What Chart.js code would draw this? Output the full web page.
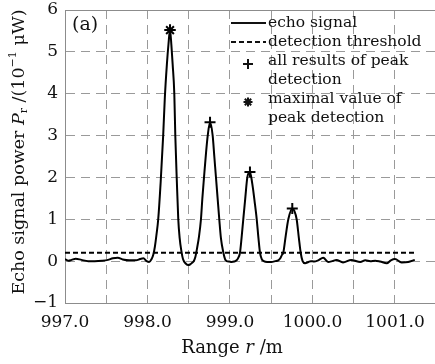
<!DOCTYPE html>
<html>
<head>
<meta charset="utf-8">
<script src="https://cdn.jsdelivr.net/npm/chart.js@4"></script>
<style>
  body { margin: 0; background: #fff; }
  #box { width: 435px; height: 364px; }
</style>
</head>
<body>
<div id="box"><canvas id="myChart" width="435" height="364"></canvas></div>
<script>
// echo signal (range in m, power in 1e-1 uW)
var rangeX = [997.00, 997.04, 997.08, 997.13, 997.20, 997.28, 997.36, 997.45, 997.52, 997.58,
  997.64, 997.70, 997.78, 997.86, 997.91, 997.95, 997.99, 998.02, 998.05, 998.07,
  998.09, 998.11, 998.13, 998.16, 998.19, 998.21, 998.235, 998.255, 998.273, 998.29,
  998.305, 998.325, 998.337, 998.354, 998.373, 998.39, 998.41, 998.43, 998.46, 998.49,
  998.515, 998.54, 998.56, 998.58, 998.60, 998.625, 998.648, 998.665, 998.685, 998.71,
  998.73, 998.758, 998.79, 998.81, 998.83, 998.85, 998.87, 998.89, 998.92, 998.94,
  998.96, 998.99, 999.02, 999.05, 999.08, 999.10, 999.121, 999.14, 999.161, 999.185,
  999.21, 999.242, 999.27, 999.30, 999.324, 999.345, 999.364, 999.385, 999.41, 999.45,
  999.50, 999.55, 999.585, 999.61, 999.63, 999.646, 999.675, 999.707, 999.755, 999.78,
  999.808, 999.835, 999.857, 999.88, 999.91, 999.95, 999.98, 1000.02, 1000.07, 1000.13,
  1000.19, 1000.24, 1000.29, 1000.37, 1000.47, 1000.58, 1000.64, 1000.70, 1000.76, 1000.82,
  1000.90, 1000.95, 1001.00, 1001.08, 1001.16, 1001.24];
var echoY = [0.05, 0.01, 0.03, 0.06, 0.03, 0.00, 0.00, 0.01, 0.03, 0.07,
  0.08, 0.04, 0.02, 0.02, 0.05, 0.07, 0.00, -0.02, 0.05, 0.15,
  0.35, 0.65, 1.0, 1.9, 3.0, 3.9, 4.7, 5.2, 5.52, 5.15,
  4.7, 4.0, 3.0, 2.0, 1.0, 0.55, 0.25, 0.05, -0.05, -0.09,
  -0.08, -0.04, 0.0, 0.1, 0.3, 0.6, 1.0, 1.5, 2.0, 2.6,
  3.0, 3.32, 3.0, 2.5, 2.0, 1.5, 1.0, 0.55, 0.2, 0.05,
  0.0, -0.01, -0.02, -0.01, 0.02, 0.08, 0.2, 0.55, 1.0, 1.5,
  2.0, 2.13, 1.85, 1.4, 1.0, 0.55, 0.2, 0.05, 0.0, -0.02,
  -0.02, 0.0, 0.02, 0.07, 0.15, 0.2, 0.6, 1.0, 1.26, 1.2,
  1.0, 0.55, 0.2, 0.0, -0.05, -0.02, 0.0, -0.01, 0.02, 0.08,
  -0.02, 0.0, 0.03, -0.03, 0.03, -0.02, 0.02, 0.0, 0.01, -0.01,
  -0.05, 0.02, 0.05, -0.03, -0.02, 0.03];

var thresholdX = [997.0, 1001.24];
var thresholdY = [0.2, 0.2];

var peakX = [998.273, 998.758, 999.242, 999.755];
var peakY = [5.52, 3.32, 2.13, 1.26];
var maxPeakX = [998.273];
var maxPeakY = [5.52];

var xTickLabels = ['997.0', '998.0', '999.0', '1000.0', '1001.0'];
var yTickLabels = ['\u22121', '0', '1', '2', '3', '4', '5', '6'];

var legendLabels = [['echo signal'], ['detection threshold'],
  ['all results of peak', 'detection'], ['maximal value of', 'peak detection']];

var SERIF = '"DejaVu Serif", serif';

function pts(xs, ys) {
  return xs.map(function (x, i) { return { x: x, y: ys[i] }; });
}

// mixed text pieces: [text, style] with style '', 'i', 'sub', 'sup'
function fontFor(st, size) {
  if (st === 'i') return 'italic ' + size + 'px ' + SERIF;
  if (st === 'sub' || st === 'sup') return Math.round(size * 0.62) + 'px ' + SERIF;
  return size + 'px ' + SERIF;
}
function piecesWidth(ctx, parts, size) {
  var w = 0;
  parts.forEach(function (p) {
    ctx.font = fontFor(p[1], size);
    w += ctx.measureText(p[0]).width;
  });
  return w;
}
function drawPieces(ctx, parts, size, x, y) {
  var cx = x - piecesWidth(ctx, parts, size) / 2;
  ctx.textBaseline = 'middle';
  ctx.textAlign = 'left';
  parts.forEach(function (p) {
    ctx.font = fontFor(p[1], size);
    var dy = p[1] === 'sub' ? size * 0.3 : (p[1] === 'sup' ? -size * 0.32 : 0);
    ctx.fillText(p[0], cx, y + dy);
    cx += ctx.measureText(p[0]).width;
  });
}

var extras = {
  id: 'extras',
  afterDraw: function (chart) {
    var ctx = chart.ctx;
    var a = chart.chartArea;
    ctx.save();
    // top frame line
    ctx.strokeStyle = '#8c8c8c';
    ctx.lineWidth = 1;
    ctx.beginPath();
    ctx.moveTo(a.left, a.top + 0.5);
    ctx.lineTo(a.right, a.top + 0.5);
    ctx.stroke();

    ctx.fillStyle = '#111';
    ctx.font = '19px ' + SERIF;
    ctx.textAlign = 'left';
    ctx.textBaseline = 'middle';
    ctx.fillText('(a)', 72, 25);

    // axis titles
    drawPieces(ctx, [['Range ', ''], ['r', 'i'], [' /m', '']], 18, 232, 348);
    ctx.translate(19, 152);
    ctx.rotate(-Math.PI / 2);
    drawPieces(ctx, [['Echo signal power ', ''], ['P', 'i'], ['r', 'sub'], [' /(10', ''], ['\u22121', 'sup'], [' \u03bcW)', '']], 17.5, 0, 0);
    ctx.restore();

    // legend inside the plot
    ctx.save();
    ctx.fillStyle = '#111';
    ctx.strokeStyle = '#111';
    ctx.font = '15.5px ' + SERIF;
    ctx.textAlign = 'left';
    ctx.textBaseline = 'middle';
    var tx = 268, y0 = 23, lh = 19;
    var row = 0;
    legendLabels.forEach(function (lines, i) {
      var y = y0 + row * lh;
      ctx.lineWidth = 1.8;
      if (i === 0) {
        ctx.setLineDash([]);
        ctx.beginPath(); ctx.moveTo(231, y); ctx.lineTo(266, y); ctx.stroke();
      } else if (i === 1) {
        ctx.setLineDash([5, 3]);
        ctx.beginPath(); ctx.moveTo(231, y); ctx.lineTo(266, y); ctx.stroke();
        ctx.setLineDash([]);
      } else if (i === 2) {
        ctx.lineWidth = 2;
        ctx.beginPath();
        ctx.moveTo(243, y + 3); ctx.lineTo(253, y + 3);
        ctx.moveTo(248, y - 2); ctx.lineTo(248, y + 8);
        ctx.stroke();
      } else {
        var r = 4.5, cy = y + 3;
        ctx.lineWidth = 2;
        ctx.beginPath();
        for (var k = 0; k < 4; k++) {
          var ang = k * Math.PI / 4;
          ctx.moveTo(248 - r * Math.cos(ang), cy - r * Math.sin(ang));
          ctx.lineTo(248 + r * Math.cos(ang), cy + r * Math.sin(ang));
        }
        ctx.stroke();
      }
      lines.forEach(function (t) {
        ctx.fillText(t, tx, y0 + row * lh);
        row++;
      });
    });
    ctx.restore();
  }
};

var ctx = document.getElementById('myChart').getContext('2d');
var chart = new Chart(ctx, {
  type: 'line',
  data: {
    datasets: [{
      label: 'echo signal',
      data: pts(rangeX, echoY),
      borderColor: '#000',
      borderWidth: 2,
      pointRadius: 0,
      cubicInterpolationMode: 'monotone'
    }, {
      label: 'detection threshold',
      data: pts(thresholdX, thresholdY),
      borderColor: '#000',
      borderWidth: 2,
      borderDash: [5, 3],
      pointRadius: 0
    }, {
      label: 'all results of peak detection',
      data: pts(peakX, peakY),
      showLine: false,
      pointStyle: 'cross',
      pointRadius: 5.5,
      pointBorderWidth: 2,
      borderColor: '#000'
    }, {
      label: 'maximal value of peak detection',
      data: pts(maxPeakX, maxPeakY),
      showLine: false,
      pointStyle: 'star',
      pointRadius: 5.5,
      pointBorderWidth: 2,
      borderColor: '#000'
    }]
  },
  options: {
    responsive: false,
    animation: false,
    layout: { autoPadding: false, padding: { top: 10, right: 0, left: 0, bottom: 0 } },
    plugins: { legend: { display: false }, tooltip: { enabled: false } },
    scales: {
      x: {
        type: 'linear',
        min: 997.0,
        max: 1001.485,
        afterFit: function (s) { s.height = 61; s.paddingLeft = 0; s.paddingRight = 0; },
        grid: { color: '#9a9a9a', lineWidth: 1, drawTicks: false },
        border: { color: '#8c8c8c', dash: [9, 6] },
        ticks: {
          stepSize: 0.5,
          includeBounds: false,
          autoSkip: false,
          maxRotation: 0,
          padding: 9,
          color: '#111',
          font: { family: SERIF, size: 17 },
          callback: function (v) {
            var i = Math.round(v - 997);
            return (Math.abs(v - Math.round(v)) < 1e-6) ? xTickLabels[i] : '';
          }
        }
      },
      y: {
        min: -1,
        max: 6,
        afterFit: function (s) { s.width = 65; s.paddingTop = 0; s.paddingBottom = 0; },
        grid: { color: '#9a9a9a', lineWidth: 1, drawTicks: false },
        border: { color: '#8c8c8c', dash: [9, 6] },
        ticks: {
          stepSize: 1,
          padding: 7,
          color: '#111',
          font: { family: SERIF, size: 17 },
          callback: function (v) { return yTickLabels[Math.round(v) + 1]; }
        }
      }
    }
  },
  plugins: [extras]
});
</script>
</body>
</html>
